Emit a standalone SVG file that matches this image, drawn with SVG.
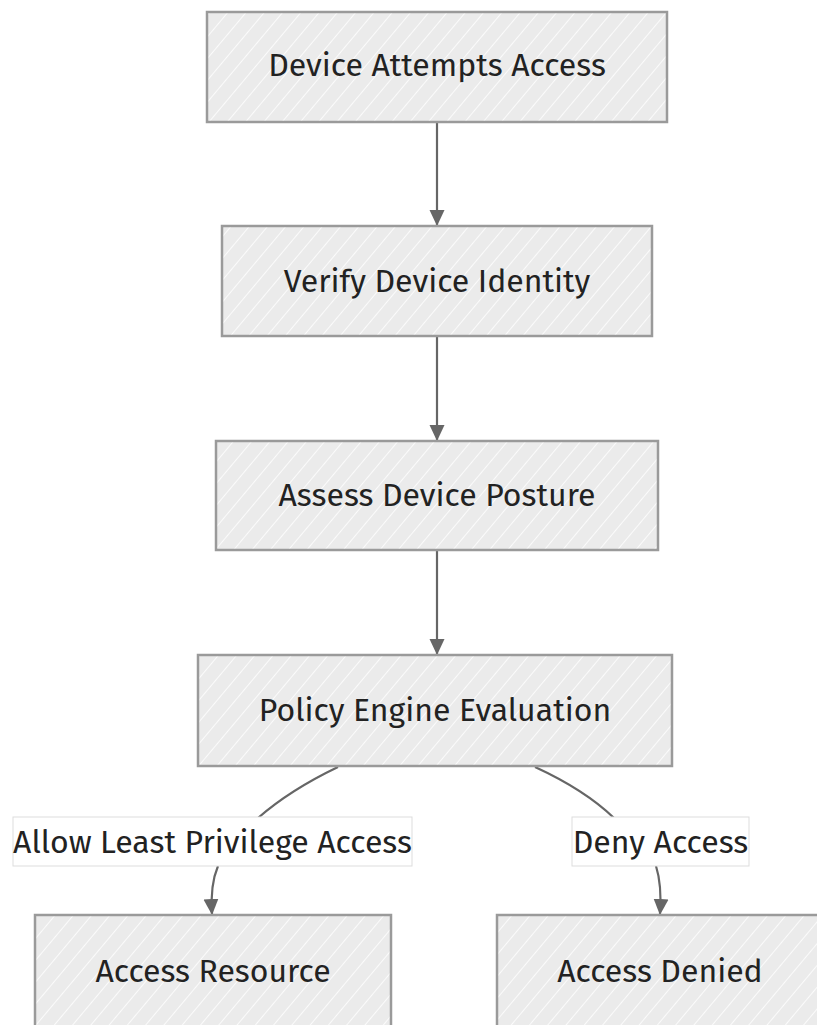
<svg xmlns="http://www.w3.org/2000/svg" width="817" height="1025" viewBox="0 0 817 1025">
<style>
.box{fill:url(#hatch);stroke:#9a9a9a;stroke-width:2.5}
.lbl{font-family:"Fira Sans","Noto Sans","Open Sans",sans-serif;font-size:32px;fill:#222;text-anchor:middle;dominant-baseline:central}
.elbl{fill:#fff;stroke:#ddd;stroke-width:1}
.edge{fill:none;stroke:#666;stroke-width:2.2}
</style>
<defs>
<pattern id="hatch" patternUnits="userSpaceOnUse" width="14" height="14" patternTransform="rotate(40)">
<rect width="14" height="14" fill="#ebebeb"/>
<line x1="0" y1="0" x2="0" y2="14" stroke="#fbfbfb" stroke-width="2"/>
</pattern>
<marker id="arr" markerWidth="16" markerHeight="16" refX="15" refY="8" orient="auto" markerUnits="userSpaceOnUse" viewBox="0 0 16 16">
<path d="M0,0.5 L16,8 L0,15.5 z" fill="#666"/>
</marker>
</defs>
<rect width="817" height="1025" fill="#fff"/>
<g id="connectors">
<path class="edge" d="M437,122 L437,225" marker-end="url(#arr)"/>
<path class="edge" d="M437,336 L437,440" marker-end="url(#arr)"/>
<path class="edge" d="M437,550 L437,654" marker-end="url(#arr)"/>
<path class="edge" d="M338,767 Q290,790 258,818"/>
<path class="edge" d="M218,866 Q210,885 212,914" marker-end="url(#arr)"/>
<path class="edge" d="M535,767 Q585,790 614,818"/>
<path class="edge" d="M656,866 Q662,885 660,914" marker-end="url(#arr)"/>
<g id="label-allow">
<rect class="elbl" x="13" y="817" width="399" height="49"/>
<text class="lbl" x="212.5" y="841.5">Allow Least Privilege Access</text>
</g>
<g id="label-deny">
<rect class="elbl" x="572" y="817" width="177" height="49"/>
<text class="lbl" x="660.5" y="841.5">Deny Access</text>
</g>
</g>
<g id="n1"><rect class="box" x="207" y="12" width="460" height="110"/><text class="lbl" x="437" y="65">Device Attempts Access</text></g>
<g id="n2"><rect class="box" x="222" y="226" width="430" height="110"/><text class="lbl" x="437" y="281">Verify Device Identity</text></g>
<g id="n3"><rect class="box" x="216" y="441" width="442" height="109"/><text class="lbl" x="437" y="495">Assess Device Posture</text></g>
<g id="n4"><rect class="box" x="198" y="655" width="474" height="111"/><text class="lbl" x="435" y="710">Policy Engine Evaluation</text></g>
<g id="n5"><rect class="box" x="35" y="915" width="356" height="112"/><text class="lbl" x="213" y="971">Access Resource</text></g>
<g id="n6"><rect class="box" x="497" y="915" width="330" height="112"/><text class="lbl" x="660" y="971">Access Denied</text></g>
</svg>
